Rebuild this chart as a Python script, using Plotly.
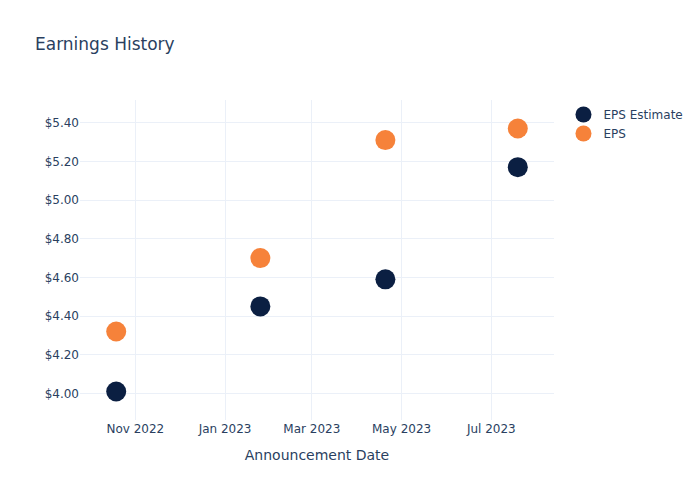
import plotly.graph_objects as go

dates = ["2022-10-19", "2023-01-25", "2023-04-20", "2023-07-19"]
eps_estimate = [4.01, 4.45, 4.59, 5.17]
eps_actual = [4.32, 4.70, 5.31, 5.37]

fig = go.Figure()
fig.add_trace(go.Scatter(x=dates, y=eps_estimate, mode="markers", name="EPS Estimate",
                         marker=dict(size=20, color="#0b1f42")))
fig.add_trace(go.Scatter(x=dates, y=eps_actual, mode="markers", name="EPS",
                         marker=dict(size=20, color="#f6823a")))
fig.update_layout(
    template="plotly_white",
    width=700, height=500,
    font=dict(family="DejaVu Sans"),
    title=dict(text="Earnings History"),
    xaxis=dict(title=dict(text="Announcement Date")),
    yaxis=dict(tickprefix="$", tickformat=".2f"),
)
fig.write_html("out.html")
